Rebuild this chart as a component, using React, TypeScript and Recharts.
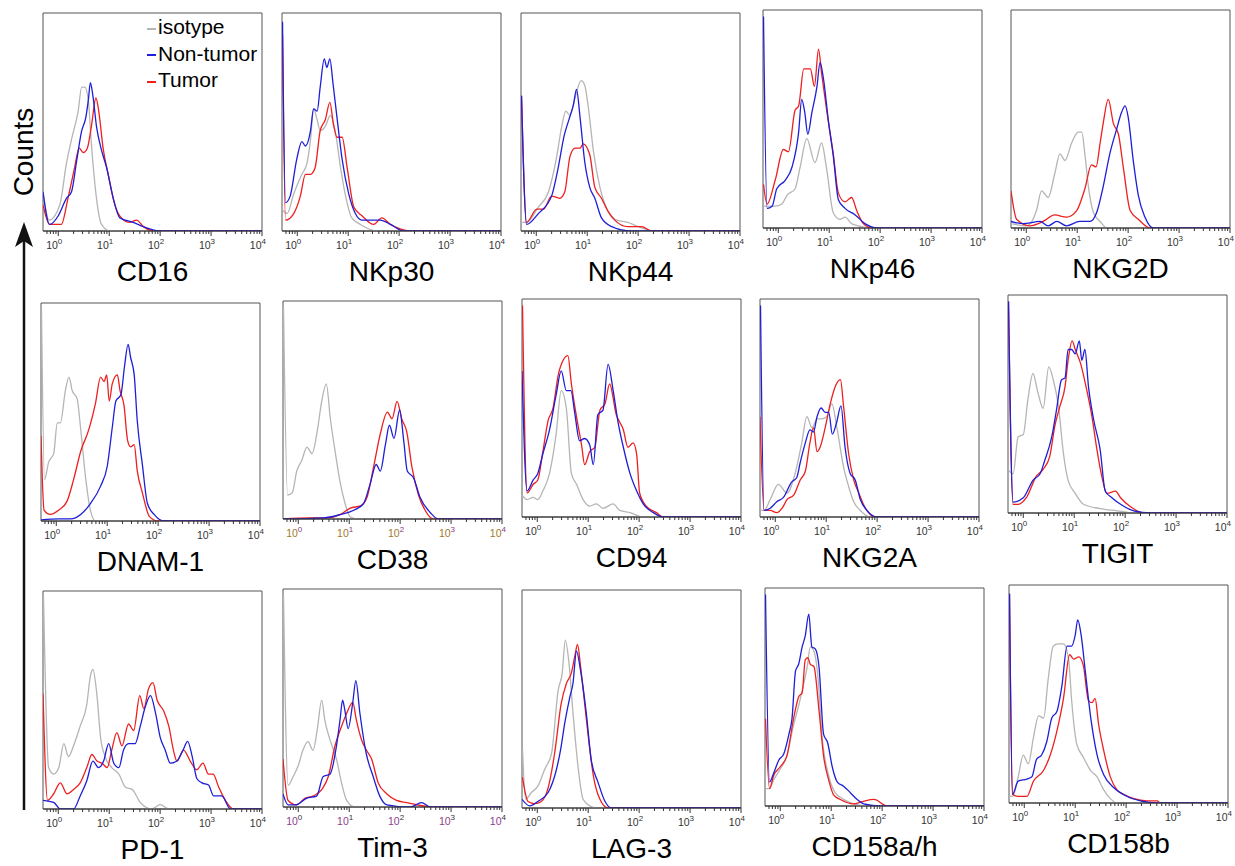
import React from 'react';
import { LineChart, Line, XAxis, YAxis, ReferenceArea } from 'recharts';

// x values are log10 of fluorescence, y is % of panel height
const cd16Iso = [[-0.3,18],[-0.18,5],[0.03,12],[0.16,31],[0.26,42],[0.39,55],[0.46,66],[0.52,66],[0.59,60],[0.65,40],[0.75,15],[0.85,3],[1.01,0]];
const cd16Non = [[-0.3,18],[-0.17,3],[0.0,7],[0.16,15],[0.26,18],[0.36,32],[0.46,46],[0.54,52],[0.59,60],[0.63,68],[0.68,62],[0.75,48],[0.85,37],[0.95,29],[1.08,15],[1.21,6],[1.47,4],[1.67,2],[2.0,0]];
const cd16Tum = [[-0.3,12],[-0.17,3],[0.06,3],[0.19,15],[0.32,29],[0.41,38],[0.49,36],[0.57,38],[0.65,48],[0.74,61],[0.8,54],[0.88,38],[0.98,26],[1.11,12],[1.24,6],[1.41,4],[1.54,5],[1.67,2],[1.9,0]];

const nkp30Iso = [[-0.3,10],[-0.2,8],[-0.07,17],[0.09,26],[0.19,31],[0.26,42],[0.32,56],[0.39,51],[0.45,46],[0.55,48],[0.65,53],[0.75,45],[0.85,29],[0.94,17],[1.07,6],[1.24,3],[1.57,0]];
const nkp30Non = [[-0.29,96],[-0.23,13],[-0.14,16],[-0.01,33],[0.09,41],[0.16,39],[0.26,46],[0.32,56],[0.39,55],[0.45,66],[0.53,79],[0.58,75],[0.64,79],[0.7,68],[0.78,52],[0.88,33],[1.01,17],[1.14,8],[1.27,5],[1.43,5],[1.63,5],[1.83,3],[2.09,0]];
const nkp30Tum = [[-0.29,90],[-0.23,5],[-0.07,8],[0.06,16],[0.16,26],[0.26,26],[0.35,29],[0.45,46],[0.55,51],[0.64,59],[0.71,49],[0.78,43],[0.88,43],[0.98,29],[1.11,11],[1.27,7],[1.5,3],[1.66,6],[1.83,3],[2.02,1],[2.22,0]];

const nkp44Iso = [[-0.3,4],[-0.19,4],[0.04,11],[0.24,18],[0.4,34],[0.5,48],[0.58,55],[0.66,53],[0.76,61],[0.88,69],[0.95,67],[1.02,57],[1.12,37],[1.25,20],[1.41,9],[1.58,5],[1.8,4],[2.0,2],[2.33,0]];
const nkp44Non = [[-0.29,62],[-0.19,3],[0.04,8],[0.3,16],[0.43,29],[0.55,44],[0.64,51],[0.73,58],[0.79,65],[0.86,52],[0.95,32],[1.05,20],[1.15,15],[1.28,6],[1.48,2],[1.87,0]];
const nkp44Tum = [[-0.29,62],[-0.19,4],[0.01,10],[0.14,10],[0.3,16],[0.46,15],[0.56,18],[0.66,34],[0.76,38],[0.86,38],[0.92,40],[1.05,35],[1.15,20],[1.28,15],[1.41,9],[1.54,5],[1.8,2],[2.07,2],[2.26,0]];

const nkp46Iso = [[-0.3,10],[-0.22,10],[-0.06,10],[0.07,11],[0.17,15],[0.33,18],[0.43,28],[0.56,41],[0.72,30],[0.85,39],[0.95,27],[1.08,7],[1.21,4],[1.31,5],[1.44,2],[1.57,1],[1.83,0]];
const nkp46Non = [[-0.29,97],[-0.22,9],[-0.12,10],[-0.03,18],[0.14,22],[0.27,28],[0.4,44],[0.46,59],[0.52,53],[0.58,43],[0.66,53],[0.76,65],[0.82,76],[0.89,68],[0.99,48],[1.08,33],[1.18,13],[1.31,9],[1.51,6],[1.7,2],[1.96,0]];
const nkp46Tum = [[-0.29,20],[-0.22,11],[-0.06,22],[0.1,36],[0.2,35],[0.33,54],[0.4,56],[0.5,73],[0.56,73],[0.63,73],[0.71,65],[0.79,82],[0.85,71],[0.95,54],[1.08,34],[1.18,16],[1.31,12],[1.44,14],[1.54,8],[1.67,2],[1.83,0]];

const nkg2dIso = [[-0.3,2],[0.01,1],[0.2,8],[0.3,17],[0.43,14],[0.56,25],[0.66,34],[0.76,31],[0.89,39],[1.02,44],[1.09,44],[1.15,34],[1.22,19],[1.32,7],[1.45,3],[1.58,0]];
const nkg2dNon = [[-0.3,3],[-0.06,2],[0.27,3],[0.43,1],[0.6,3],[0.79,1],[1.05,3],[1.25,3],[1.38,7],[1.51,19],[1.64,34],[1.77,45],[1.87,53],[1.94,56],[2.0,51],[2.1,31],[2.2,15],[2.33,5],[2.49,0]];
const nkg2dTum = [[-0.3,17],[-0.19,4],[0.07,1],[0.33,3],[0.56,6],[0.79,5],[0.99,8],[1.15,18],[1.28,29],[1.37,28],[1.45,39],[1.51,48],[1.61,59],[1.71,48],[1.81,43],[1.91,27],[2.04,8],[2.2,4],[2.43,0]];

const dnamIso = [[-0.29,97],[-0.23,19],[-0.15,27],[-0.05,31],[0.02,45],[0.08,45],[0.18,60],[0.25,66],[0.31,60],[0.41,56],[0.48,42],[0.58,19],[0.67,5],[0.77,0]];
const dnamNon = [[-0.3,0.5],[0.05,1],[0.28,1],[0.48,3],[0.67,8],[0.87,16],[1.0,25],[1.1,43],[1.17,55],[1.27,58],[1.34,71],[1.41,81],[1.46,75],[1.53,67],[1.59,46],[1.69,26],[1.79,8],[1.92,3],[2.12,0]];
const dnamTum = [[-0.3,39],[-0.24,5],[-0.12,3],[0.05,5],[0.21,9],[0.34,19],[0.48,32],[0.64,42],[0.77,54],[0.87,66],[0.94,64],[0.99,67],[1.04,55],[1.1,63],[1.2,67],[1.25,60],[1.33,53],[1.4,37],[1.46,34],[1.53,35],[1.59,23],[1.69,13],[1.83,2],[1.99,0]];

const cd38Iso = [[-0.29,97],[-0.21,11],[-0.12,12],[-0.03,22],[0.07,27],[0.17,33],[0.27,30],[0.37,40],[0.46,54],[0.55,62],[0.63,46],[0.73,30],[0.82,17],[0.92,7],[1.02,1],[1.15,0]];
const cd38Non = [[-0.3,0],[0.5,0.5],[0.82,2],[1.09,4],[1.28,7],[1.41,16],[1.53,25],[1.61,22],[1.71,34],[1.79,43],[1.88,37],[1.99,50],[2.07,36],[2.14,22],[2.26,19],[2.39,10],[2.59,3],[2.75,0]];
const cd38Tum = [[-0.3,0],[0.24,0.5],[0.56,0.5],[0.82,2],[1.02,5],[1.22,6],[1.35,10],[1.48,24],[1.61,39],[1.75,49],[1.84,46],[1.94,54],[2.03,46],[2.13,40],[2.23,24],[2.36,11],[2.49,4],[2.65,0]];

const cd94Iso = [[-0.3,10],[-0.2,8],[-0.08,9],[0.01,8],[0.11,12],[0.24,20],[0.37,38],[0.47,58],[0.57,50],[0.67,20],[0.77,15],[0.9,8],[1.03,5],[1.16,6],[1.29,4],[1.49,6],[1.62,3],[1.82,2],[2.08,0]];
const cd94Non = [[-0.3,67],[-0.2,12],[-0.08,17],[0.01,20],[0.11,29],[0.24,40],[0.37,56],[0.47,67],[0.57,58],[0.66,58],[0.74,47],[0.83,35],[0.93,36],[1.03,33],[1.1,24],[1.19,47],[1.29,49],[1.39,70],[1.49,58],[1.59,43],[1.69,32],[1.82,20],[1.95,12],[2.08,6],[2.28,2],[2.47,0]];
const cd94Tum = [[-0.29,97],[-0.2,11],[-0.08,15],[0.01,17],[0.11,30],[0.21,44],[0.31,50],[0.41,65],[0.51,72],[0.6,74],[0.67,61],[0.77,46],[0.87,33],[0.93,24],[1.03,30],[1.13,32],[1.23,49],[1.33,52],[1.42,61],[1.55,47],[1.69,40],[1.78,32],[1.88,34],[1.95,29],[2.01,11],[2.14,5],[2.34,2],[2.47,0]];

const nkg2aIso = [[-0.3,3],[-0.22,3],[-0.1,8],[0.06,15],[0.23,11],[0.39,20],[0.52,34],[0.62,46],[0.72,41],[0.82,45],[0.91,45],[1.01,46],[1.11,52],[1.21,41],[1.34,23],[1.44,14],[1.54,7],[1.67,3],[1.87,0]];
const nkg2aNon = [[-0.29,97],[-0.22,3],[-0.1,4],[0.03,7],[0.16,9],[0.32,16],[0.42,18],[0.49,25],[0.59,34],[0.68,40],[0.75,39],[0.82,46],[0.9,50],[0.98,48],[1.05,48],[1.12,38],[1.2,43],[1.29,51],[1.37,32],[1.47,20],[1.57,17],[1.67,8],[1.8,3],[2.0,0]];
const nkg2aTum = [[-0.3,46],[-0.22,3],[-0.1,3],[0.03,2],[0.16,5],[0.23,8],[0.36,10],[0.49,17],[0.59,21],[0.68,34],[0.75,41],[0.82,30],[0.88,32],[0.98,41],[1.08,52],[1.18,60],[1.28,63],[1.34,51],[1.44,29],[1.54,17],[1.64,11],[1.77,4],[1.97,0]];

const tigitIso = [[-0.3,20],[-0.2,18],[-0.1,35],[0.0,36],[0.09,52],[0.19,64],[0.29,55],[0.39,48],[0.5,67],[0.59,61],[0.69,49],[0.79,27],[0.88,15],[1.02,9],[1.18,4],[1.51,2],[1.84,1],[2.17,0]];
const tigitNon = [[-0.29,97],[-0.2,5],[0.0,7],[0.19,15],[0.33,18],[0.42,24],[0.56,35],[0.65,47],[0.75,61],[0.82,62],[0.88,75],[0.95,75],[1.02,73],[1.1,79],[1.15,70],[1.21,75],[1.28,58],[1.38,43],[1.51,29],[1.61,10],[1.74,7],[1.91,4],[2.17,1],[2.5,0]];
const tigitTum = [[-0.29,97],[-0.2,4],[-0.1,4],[0.06,7],[0.26,17],[0.39,20],[0.52,26],[0.62,40],[0.72,49],[0.82,58],[0.88,70],[0.96,79],[1.02,75],[1.12,69],[1.25,56],[1.35,44],[1.44,30],[1.54,17],[1.64,9],[1.81,10],[1.91,7],[2.1,3],[2.37,0]];

const pd1Iso = [[-0.29,97],[-0.19,19],[-0.09,16],[0.01,19],[0.11,30],[0.2,24],[0.3,29],[0.43,38],[0.56,48],[0.63,61],[0.68,64],[0.76,52],[0.83,33],[0.92,24],[1.05,19],[1.19,16],[1.32,10],[1.45,9],[1.61,3],[1.84,0],[2.0,2],[2.17,0]];
const pd1Non = [[-0.3,4],[-0.09,3],[0.04,0],[0.3,0],[0.43,6],[0.56,13],[0.68,22],[0.79,19],[0.89,22],[0.99,30],[1.09,21],[1.19,19],[1.28,27],[1.38,30],[1.51,30],[1.61,38],[1.71,47],[1.81,52],[1.91,44],[2.0,33],[2.1,27],[2.2,21],[2.33,22],[2.45,27],[2.54,31],[2.63,24],[2.72,14],[2.82,12],[2.95,11],[3.05,6],[3.21,6],[3.38,0]];
const pd1Tum = [[-0.3,53],[-0.21,4],[-0.09,7],[0.04,12],[0.17,7],[0.3,9],[0.43,12],[0.56,19],[0.66,25],[0.76,22],[0.86,21],[0.96,19],[1.05,27],[1.15,35],[1.25,29],[1.38,39],[1.48,36],[1.6,52],[1.68,46],[1.77,55],[1.86,58],[1.94,50],[2.07,45],[2.17,38],[2.27,26],[2.33,22],[2.46,27],[2.59,22],[2.72,18],[2.84,21],[2.95,16],[3.04,16],[3.15,10],[3.28,4],[3.44,0]];

const tim3Iso = [[-0.29,97],[-0.2,10],[-0.1,14],[0.0,19],[0.09,26],[0.19,30],[0.29,26],[0.37,35],[0.46,49],[0.52,40],[0.62,31],[0.75,22],[0.85,11],[0.95,3],[1.11,0]];
const tim3Non = [[-0.3,6],[-0.2,1],[-0.04,1],[0.16,4],[0.36,5],[0.49,14],[0.62,15],[0.75,28],[0.82,40],[0.87,49],[0.91,45],[0.98,36],[1.07,48],[1.13,58],[1.21,43],[1.33,25],[1.47,14],[1.6,5],[1.74,1],[2.2,0],[2.42,2],[2.59,0]];
const tim3Tum = [[-0.3,22],[-0.2,3],[-0.04,1],[0.13,4],[0.29,5],[0.46,8],[0.59,14],[0.72,28],[0.85,37],[0.95,43],[1.07,48],[1.14,40],[1.24,31],[1.34,26],[1.44,22],[1.57,11],[1.74,6],[1.93,3],[2.13,2],[2.33,1],[2.65,0]];

const lag3Iso = [[-0.29,27],[-0.23,4],[-0.12,7],[0.01,10],[0.15,18],[0.28,25],[0.41,54],[0.49,62],[0.55,77],[0.62,67],[0.7,44],[0.8,19],[0.9,4],[1.03,1],[1.16,0]];
const lag3Non = [[-0.3,4],[-0.15,1],[0.01,3],[0.21,7],[0.38,18],[0.46,27],[0.54,39],[0.64,51],[0.7,57],[0.77,72],[0.85,63],[0.96,44],[1.06,22],[1.19,12],[1.33,3],[1.46,0]];
const lag3Tum = [[-0.29,14],[-0.18,3],[-0.05,2],[0.08,3],[0.21,9],[0.34,25],[0.47,48],[0.57,57],[0.67,62],[0.74,70],[0.79,75],[0.85,65],[0.93,48],[1.03,27],[1.1,15],[1.23,4],[1.39,0]];

const cd158ahIso = [[-0.3,8],[-0.21,8],[-0.13,12],[0.0,17],[0.13,23],[0.26,37],[0.36,46],[0.46,56],[0.53,64],[0.59,73],[0.66,71],[0.74,59],[0.82,32],[0.95,14],[1.08,6],[1.25,3],[1.44,1],[1.71,0]];
const cd158ahNon = [[-0.29,97],[-0.21,11],[-0.13,15],[-0.03,21],[0.07,24],[0.17,33],[0.23,40],[0.3,62],[0.36,65],[0.43,73],[0.49,78],[0.56,88],[0.62,73],[0.69,72],[0.76,64],[0.85,33],[0.93,29],[1.02,18],[1.12,11],[1.25,9],[1.38,6],[1.51,3],[1.64,1],[1.97,0]];
const cd158ahTum = [[-0.29,40],[-0.21,8],[-0.13,14],[0.0,18],[0.13,23],[0.26,40],[0.36,50],[0.43,52],[0.49,67],[0.54,68],[0.59,65],[0.66,64],[0.76,44],[0.85,23],[0.95,12],[1.05,5],[1.18,3],[1.44,1],[1.61,2],[1.84,3],[2.1,0]];

const cd158bIso = [[-0.3,3],[-0.23,3],[-0.12,12],[-0.02,22],[0.08,18],[0.18,30],[0.28,40],[0.38,39],[0.47,57],[0.57,72],[0.67,73],[0.77,73],[0.87,66],[0.93,47],[1.03,27],[1.16,21],[1.3,15],[1.43,12],[1.56,6],[1.69,2],[1.82,0]];
const cd158bNon = [[-0.29,96],[-0.23,4],[-0.12,10],[0.05,11],[0.15,12],[0.24,20],[0.34,22],[0.44,28],[0.54,39],[0.64,42],[0.74,54],[0.84,72],[0.93,72],[1.0,77],[1.05,84],[1.11,78],[1.2,60],[1.3,40],[1.43,22],[1.56,13],[1.76,7],[2.02,3],[2.28,1],[2.61,0]];
const cd158bTum = [[-0.29,96],[-0.23,4],[-0.12,3],[0.05,3],[0.18,10],[0.38,15],[0.51,22],[0.64,33],[0.77,48],[0.89,68],[0.97,66],[1.07,67],[1.16,63],[1.26,47],[1.33,46],[1.39,48],[1.46,36],[1.56,24],[1.69,12],[1.82,6],[1.95,4],[2.15,2],[2.41,1],[2.61,1],[2.67,0]];

const markers = ['CD16', 'NKp30', 'NKp44', 'NKp46', 'NKG2D', 'DNAM-1', 'CD38', 'CD94', 'NKG2A', 'TIGIT', 'PD-1', 'Tim-3', 'LAG-3', 'CD158a/h', 'CD158b'];
const isoCurves = [cd16Iso, nkp30Iso, nkp44Iso, nkp46Iso, nkg2dIso, dnamIso, cd38Iso, cd94Iso, nkg2aIso, tigitIso, pd1Iso, tim3Iso, lag3Iso, cd158ahIso, cd158bIso];
const nonCurves = [cd16Non, nkp30Non, nkp44Non, nkp46Non, nkg2dNon, dnamNon, cd38Non, cd94Non, nkg2aNon, tigitNon, pd1Non, tim3Non, lag3Non, cd158ahNon, cd158bNon];
const tumCurves = [cd16Tum, nkp30Tum, nkp44Tum, nkp46Tum, nkg2dTum, dnamTum, cd38Tum, cd94Tum, nkg2aTum, tigitTum, pd1Tum, tim3Tum, lag3Tum, cd158ahTum, cd158bTum];
const decades = [0, 1, 2, 3, 4];
const seriesNames = ['isotype', 'Non-tumor', 'Tumor'];

// box left/top of each panel on the page
const boxPos = [
  [43, 13], [282, 13], [521, 13], [763, 10], [1011, 10],
  [41, 303], [283, 301], [522, 299], [760, 299], [1008, 295],
  [43, 591], [283, 589], [522, 590], [765, 588], [1009, 585],
];

const ISO = '#b5b5b5';
const NON = '#1e1ed8';
const TUM = '#ee1f1f';
const FONT = "'Liberation Sans', Arial, sans-serif";
const BOX_W = 219;
const BOX_H = 218;
const ML = 8;
const MR = 14;

const tickVals: number[] = [];
for (let d = -1; d < 4; d++) {
  tickVals.push(d);
  for (let k = 2; k <= 9; k++) {
    const v = d + Math.log10(k);
    if (v > -0.3) tickVals.push(v);
  }
}
tickVals.push(4);
const ticks = tickVals.filter((v) => v >= -0.3);

const pts = (a: number[][]) => [...a, [4, 0]].map(([x, y]) => ({ x, y }));

// CD38 and Tim-3 have tinted tick labels in the original
const tickTint: Record<number, [string, string]> = {
  6: ['#a07a2a', '#8a3a8a'],
  11: ['#8e3c8e', '#333'],
};

const LogTick = (props: any) => {
  const { x, y, payload, panel } = props;
  const v = payload.value;
  const major = decades.includes(v);
  const [c10, cExp] = tickTint[panel] || ['#333', '#333'];
  return (
    <g>
      <line x1={x} x2={x} y1={y} y2={y + (major ? 5 : 3)} stroke="#333" strokeWidth={1} />
      {major && (
        <text x={x + 4} y={y + 18} textAnchor="end" fontSize={10.5} fill={c10} fontFamily={FONT}>
          10
          <tspan dy={-5} fontSize={8} fill={cExp}>{v}</tspan>
        </text>
      )}
    </g>
  );
};

const Panel = ({ i }: { i: number }) => {
  const [bx, by] = boxPos[i];
  return (
    <div style={{ position: 'absolute', left: bx - ML, top: by - 1 }}>
      <LineChart
        width={ML + BOX_W + MR}
        height={1 + BOX_H + 55 + 3}
        margin={{ top: 1, right: MR, left: ML, bottom: 3 }}
      >
        <XAxis
          type="number"
          dataKey="x"
          domain={[-0.3, 4]}
          allowDataOverflow
          ticks={ticks}
          interval={0}
          tick={<LogTick panel={i} />}
          tickLine={false}
          tickSize={0}
          tickMargin={0}
          axisLine={{ stroke: '#333' }}
          height={55}
          label={{ value: markers[i], position: 'insideBottom', offset: 5, fontSize: 28, fill: '#000', fontFamily: FONT }}
        />
        <YAxis type="number" domain={[0, 100]} hide allowDataOverflow />
        <ReferenceArea x1={-0.3} x2={4} y1={0} y2={100} fill="none" stroke="#555" strokeWidth={1} />
        <Line data={pts(isoCurves[i])} dataKey="y" type="monotone" stroke={ISO} strokeWidth={1.3} dot={false} isAnimationActive={false} />
        <Line data={pts(tumCurves[i])} dataKey="y" type="monotone" stroke={TUM} strokeWidth={1.3} dot={false} isAnimationActive={false} />
        <Line data={pts(nonCurves[i])} dataKey="y" type="monotone" stroke={NON} strokeWidth={1.3} dot={false} isAnimationActive={false} />
      </LineChart>
    </div>
  );
};

export default function App() {
  const legendColors = [ISO, NON, TUM];
  return (
    <div style={{ position: 'absolute', left: 0, top: 0, width: 1235, height: 866, background: '#fff', fontFamily: FONT }}>
      {markers.map((_, i) => (
        <Panel key={i} i={i} />
      ))}
      <div style={{ position: 'absolute', left: 147, top: 14 }}>
        {seriesNames.map((name, k) => (
          <div key={name} style={{ display: 'flex', alignItems: 'center', height: 26.5, fontSize: 21, color: '#000' }}>
            <span style={{ display: 'inline-block', width: 9, height: 2, background: legendColors[k], marginRight: 2, marginTop: 3 }} />
            <span>{name}</span>
          </div>
        ))}
      </div>
      <svg style={{ position: 'absolute', left: 0, top: 0 }} width={45} height={866}>
        <line x1={24} x2={24} y1={810} y2={238} stroke="#111" strokeWidth={2.5} />
        <polygon points="24,222 33,247 24,241 15,247" fill="#111" />
        <text x={33} y={152} transform="rotate(-90 33 152)" textAnchor="middle" fontSize={28} fontFamily={FONT} fill="#000">
          Counts
        </text>
      </svg>
    </div>
  );
}
